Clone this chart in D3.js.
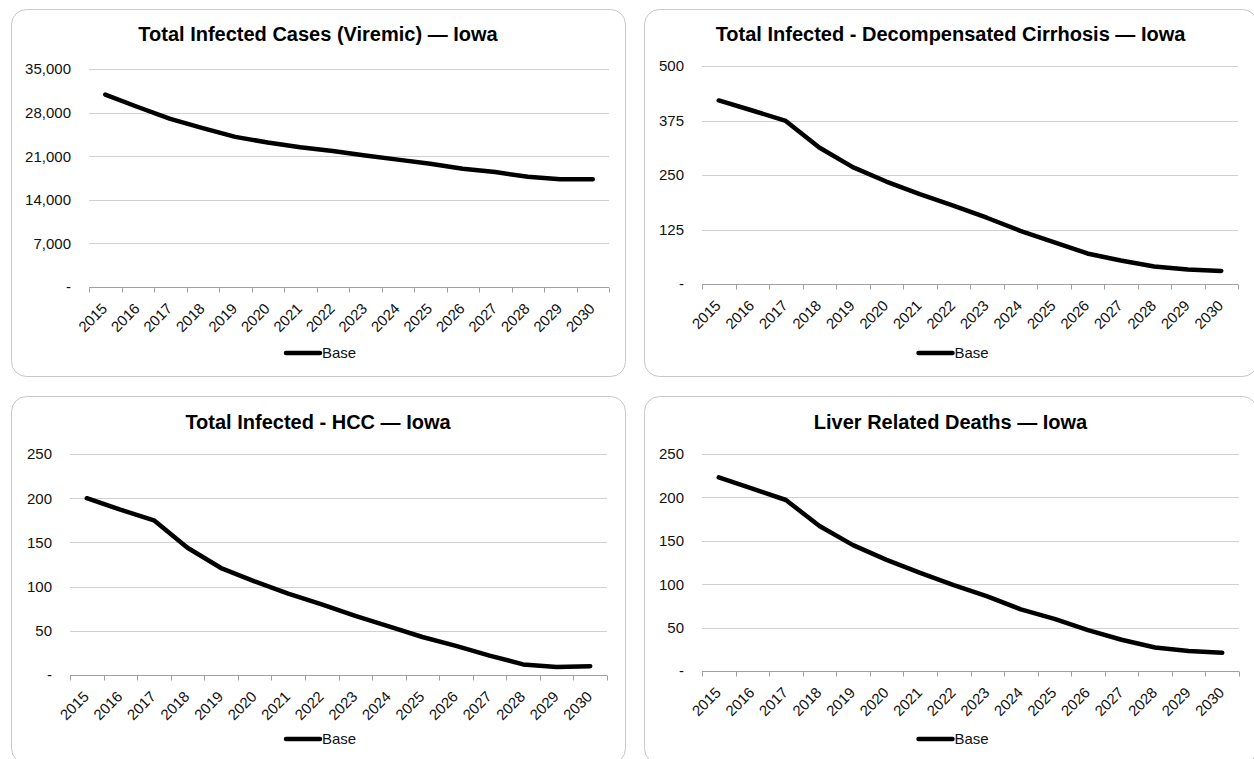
<!DOCTYPE html>
<html><head><meta charset="utf-8">
<script src="https://cdn.jsdelivr.net/npm/d3@7"></script>
<style>
body{margin:0;background:#fff}
svg{display:block;font-family:"Liberation Sans",Arial,sans-serif}
</style>
</head><body>
<svg id="c" width="1254" height="759"></svg>
<script>
// ---- data ----
const years = ["2015","2016","2017","2018","2019","2020","2021","2022","2023","2024","2025","2026","2027","2028","2029","2030"];
const viremicCases = [30900, 28900, 27000, 25500, 24100, 23200, 22450, 21850, 21100, 20450, 19800, 19000, 18450, 17700, 17300, 17300];
const decompCirrhosis = [421, 398, 374, 313, 268, 235, 206, 180, 152, 122, 96, 70, 54, 40, 33, 30];
const hccCases = [200, 187, 175, 144, 121, 106, 92, 80, 67, 55, 43, 33, 22, 12, 9, 10];
const liverDeaths = [223, 210, 197, 167, 145, 128, 113, 99, 86, 71, 60, 47, 36, 27, 23, 21];
const ticksViremic = [0, 7000, 14000, 21000, 28000, 35000];
const ticksDecomp = [0, 125, 250, 375, 500];
const ticksHcc = [0, 50, 100, 150, 200, 250];
const ticksDeaths = [0, 50, 100, 150, 200, 250];
const titles = [
  "Total Infected Cases (Viremic) \u2014 Iowa",
  "Total Infected - Decompensated Cirrhosis \u2014 Iowa",
  "Total Infected - HCC \u2014 Iowa",
  "Liver Related Deaths \u2014 Iowa"
];
const seriesName = "Base";

// ---- layout ----
const panels = [
  {values: viremicCases, ticks: ticksViremic, title: titles[0], box: {x: 11, y: 9, w: 614, h: 367}, plot: {l: 89, r: 609, t: 69, b: 287}, titleY: 41, legendY: 353},
  {values: decompCirrhosis, ticks: ticksDecomp, title: titles[1], box: {x: 644, y: 9, w: 613, h: 367}, plot: {l: 702, r: 1238, t: 66, b: 284}, titleY: 41, legendY: 353},
  {values: hccCases, ticks: ticksHcc, title: titles[2], box: {x: 11, y: 396, w: 614, h: 367}, plot: {l: 70, r: 607, t: 454, b: 675}, titleY: 429, legendY: 739},
  {values: liverDeaths, ticks: ticksDeaths, title: titles[3], box: {x: 644, y: 396, w: 613, h: 367}, plot: {l: 702, r: 1239, t: 454, b: 671}, titleY: 429, legendY: 739}
];

const svg = d3.select("#c");
const fmt = v => v === 0 ? "-" : d3.format(",")(v);

panels.forEach(p => {
  const g = svg.append("g");
  g.append("rect").attr("x", p.box.x + 0.5).attr("y", p.box.y + 0.5)
    .attr("width", p.box.w).attr("height", p.box.h).attr("rx", 15).attr("ry", 15)
    .attr("fill", "#fff").attr("stroke", "#c8c8c8").attr("stroke-width", 1);

  const cx = p.box.x + p.box.w / 2;
  g.append("text").attr("x", cx).attr("y", p.titleY).attr("text-anchor", "middle")
    .attr("font-size", 20).attr("font-weight", "bold").attr("fill", "#000").text(p.title);

  const x = d3.scaleBand().domain(years).range([p.plot.l, p.plot.r]).padding(0);
  const y = d3.scaleLinear().domain([0, d3.max(p.ticks)]).range([p.plot.b, p.plot.t]);

  // gridlines
  g.append("g").selectAll("line").data(p.ticks.filter(t => t > 0)).join("line")
    .attr("x1", p.plot.l).attr("x2", p.plot.r)
    .attr("y1", d => Math.round(y(d)) + 0.5).attr("y2", d => Math.round(y(d)) + 0.5)
    .attr("stroke", "#d0d0d0").attr("stroke-width", 1);

  // y axis labels
  const ya = g.append("g").attr("transform", `translate(${p.plot.l},0)`)
    .call(d3.axisLeft(y).tickValues(p.ticks).tickSize(0).tickPadding(18).tickFormat(fmt));
  ya.select(".domain").remove();
  ya.selectAll("text").attr("font-size", 15).attr("fill", "#111")
    .attr("font-family", '"Liberation Sans",Arial,sans-serif');

  // x axis line and ticks at category boundaries
  const y0 = Math.round(y(0)) + 0.5;
  g.append("line").attr("x1", p.plot.l).attr("x2", p.plot.r).attr("y1", y0).attr("y2", y0)
    .attr("stroke", "#a0a0a0").attr("stroke-width", 1);
  const bounds = years.map(d => x(d)).concat([x(years[years.length - 1]) + x.bandwidth()]);
  g.append("g").selectAll("line").data(bounds).join("line")
    .attr("x1", d => Math.round(d) + 0.5).attr("x2", d => Math.round(d) + 0.5)
    .attr("y1", y0).attr("y2", y0 + 5)
    .attr("stroke", "#a0a0a0").attr("stroke-width", 1);

  // x labels
  g.append("g").selectAll("text").data(years).join("text")
    .attr("transform", d => `translate(${x(d) + x.bandwidth() / 2 + 3},${y0 + 22}) rotate(-45)`)
    .attr("text-anchor", "end").attr("font-size", 15).attr("fill", "#111").text(d => d);

  // series line
  const line = d3.line().x((d, i) => x(years[i]) + x.bandwidth() / 2).y(d => y(d)).curve(d3.curveLinear);
  g.append("path").datum(p.values).attr("d", line).attr("fill", "none")
    .attr("stroke", "#000").attr("stroke-width", 4.5).attr("stroke-linejoin", "round").attr("stroke-linecap", "round");

  // legend
  const lx = cx - 32;
  g.append("line").attr("x1", lx).attr("x2", lx + 34).attr("y1", p.legendY).attr("y2", p.legendY)
    .attr("stroke", "#000").attr("stroke-width", 4.5).attr("stroke-linecap", "round");
  g.append("text").attr("x", lx + 36).attr("y", p.legendY).attr("dy", "0.35em")
    .attr("font-size", 15).attr("fill", "#111").text(seriesName);
});
</script>
</body></html>
